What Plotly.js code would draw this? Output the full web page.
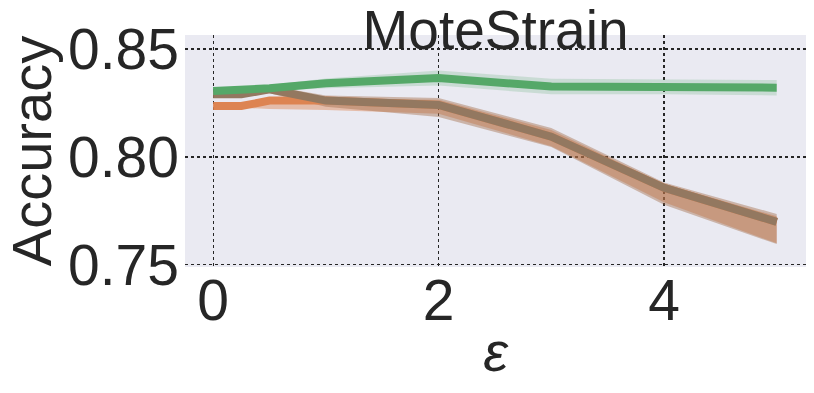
<!DOCTYPE html>
<html>
<head>
<meta charset="utf-8">
<script src="https://cdn.plot.ly/plotly-3.0.1.min.js"></script>
<style>
  html, body { margin: 0; padding: 0; background: #fff; }
  #chart { width: 814px; height: 393px; }
</style>
</head>
<body>
<div id="chart"></div>
<script>
// epsilon values
var eps = [0, 0.25, 0.5, 1, 2, 3, 4, 5];

// mean accuracy per method
var orangeMean = [0.8236, 0.8236, 0.8261, 0.8261, 0.8241, 0.8094, 0.7857, 0.7699];
var brownMean  = [0.8290, 0.8290, 0.8313, 0.8261, 0.8241, 0.8094, 0.7857, 0.7699];
var greenMean  = [0.8306, 0.8311, 0.8318, 0.8341, 0.8366, 0.8326, 0.8326, 0.8321];

// confidence bands
var orangeLow  = [0.8228, 0.8228, 0.8222, 0.8218, 0.8200, 0.8050, 0.7790, 0.7600];
var orangeHigh = [0.8244, 0.8244, 0.8270, 0.8270, 0.8265, 0.8125, 0.7875, 0.7725];
var brownLow   = [0.8280, 0.8280, 0.8295, 0.8232, 0.8185, 0.8046, 0.7778, 0.7596];
var brownHigh  = [0.8300, 0.8300, 0.8330, 0.8285, 0.8273, 0.8134, 0.7881, 0.7736];
var greenLow   = [0.8296, 0.8299, 0.8303, 0.8318, 0.8331, 0.8290, 0.8290, 0.8285];
var greenHigh  = [0.8316, 0.8323, 0.8333, 0.8364, 0.8401, 0.8362, 0.8360, 0.8356];

var FONT = "Liberation Sans, Arial, sans-serif";

function band(lo, hi, color) {
  var xs = eps.concat(eps.slice().reverse());
  var ys = hi.concat(lo.slice().reverse());
  return {
    x: xs, y: ys,
    type: "scatter", mode: "lines",
    fill: "toself", fillcolor: color,
    line: { width: 0 },
    hoverinfo: "skip", showlegend: false
  };
}

function meanLine(y, color) {
  return {
    x: eps, y: y,
    type: "scatter", mode: "lines",
    line: { color: color, width: 8 },
    showlegend: false
  };
}

var data = [
  band(orangeLow, orangeHigh, "rgba(221,132,82,0.45)"),
  band(brownLow, brownHigh, "rgba(160,105,70,0.42)"),
  band(greenLow, greenHigh, "rgba(85,168,104,0.22)"),
  meanLine(orangeMean, "#dd8452"),
  meanLine(brownMean, "#937860"),
  meanLine(greenMean, "#55a868")
];

var layout = {
  width: 814,
  height: 393,
  margin: { l: 185, r: 8, t: 35, b: 126 },
  paper_bgcolor: "#ffffff",
  plot_bgcolor: "#eaeaf2",
  font: { family: FONT, color: "#262626", size: 57 },
  title: {
    text: "MoteStrain",
    font: { family: FONT, size: 55, color: "#262626" },
    x: 0.5, xref: "paper", xanchor: "center",
    y: 0.876, yref: "container", yanchor: "bottom"
  },
  xaxis: {
    range: [-0.25, 5.26],
    tickvals: [0, 2, 4],
    ticktext: ["0", "2", "4"],
    showgrid: true,
    gridcolor: "#262626",
    griddash: "dot",
    gridwidth: 1.2,
    zeroline: false,
    showline: false,
    ticks: "",
    ticklabelstandoff: -5,
    tickfont: { size: 57 },
    title: { text: "<i>ε</i>", font: { size: 56 }, standoff: 0 }
  },
  yaxis: {
    range: [0.749, 0.8565],
    tickvals: [0.75, 0.80, 0.85],
    ticktext: ["0.75", "0.80", "0.85"],
    showgrid: true,
    gridcolor: "#262626",
    griddash: "dot",
    gridwidth: 1.2,
    zeroline: false,
    showline: false,
    ticks: "",
    ticklabelstandoff: 5,
    tickfont: { size: 57 },
    title: { text: "Accuracy", font: { size: 56 }, standoff: 15 }
  }
};

Plotly.newPlot("chart", data, layout, { staticPlot: true, displayModeBar: false });
</script>
</body>
</html>
